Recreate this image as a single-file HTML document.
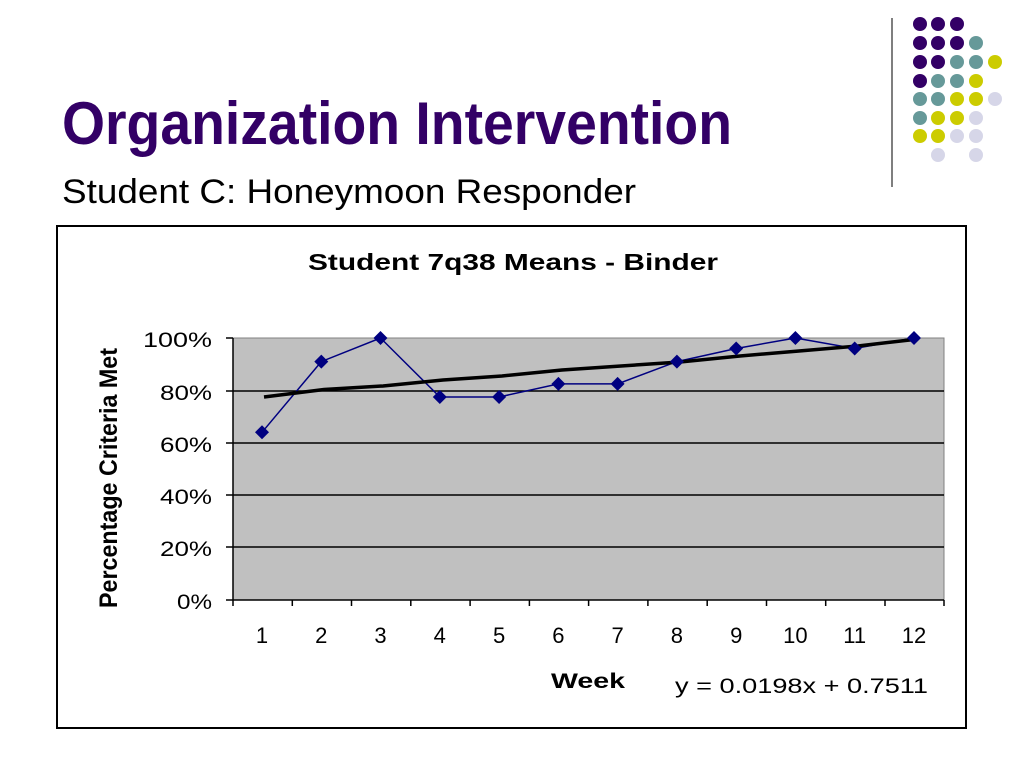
<!DOCTYPE html>
<html><head><meta charset="utf-8"><style>
body{margin:0;width:1024px;height:768px;background:#fff;overflow:hidden;position:relative;font-family:"Liberation Sans",sans-serif}
</style></head><body>
<svg width="1024" height="768" style="position:absolute;left:0;top:0" font-family="Liberation Sans, sans-serif">
<text x="62" y="144" font-size="60" font-weight="bold" fill="#330066" textLength="670" lengthAdjust="spacingAndGlyphs">Organization Intervention</text>
<text x="62" y="203" font-size="34" fill="#000" textLength="574" lengthAdjust="spacingAndGlyphs">Student C: Honeymoon Responder</text>
<line x1="892" y1="18" x2="892" y2="187" stroke="#555" stroke-width="1.5"/>
<g>
<circle cx="920" cy="24" r="7" fill="#330066"/><circle cx="938" cy="24" r="7" fill="#330066"/><circle cx="957" cy="24" r="7" fill="#330066"/>
<circle cx="920" cy="43" r="7" fill="#330066"/><circle cx="938" cy="43" r="7" fill="#330066"/><circle cx="957" cy="43" r="7" fill="#330066"/><circle cx="976" cy="43" r="7" fill="#669999"/>
<circle cx="920" cy="62" r="7" fill="#330066"/><circle cx="938" cy="62" r="7" fill="#330066"/><circle cx="957" cy="62" r="7" fill="#669999"/><circle cx="976" cy="62" r="7" fill="#669999"/><circle cx="995" cy="62" r="7" fill="#cccc00"/>
<circle cx="920" cy="81" r="7" fill="#330066"/><circle cx="938" cy="81" r="7" fill="#669999"/><circle cx="957" cy="81" r="7" fill="#669999"/><circle cx="976" cy="81" r="7" fill="#cccc00"/>
<circle cx="920" cy="99" r="7" fill="#669999"/><circle cx="938" cy="99" r="7" fill="#669999"/><circle cx="957" cy="99" r="7" fill="#cccc00"/><circle cx="976" cy="99" r="7" fill="#cccc00"/><circle cx="995" cy="99" r="7" fill="#d6d6e8"/>
<circle cx="920" cy="118" r="7" fill="#669999"/><circle cx="938" cy="118" r="7" fill="#cccc00"/><circle cx="957" cy="118" r="7" fill="#cccc00"/><circle cx="976" cy="118" r="7" fill="#d6d6e8"/>
<circle cx="920" cy="136" r="7" fill="#cccc00"/><circle cx="938" cy="136" r="7" fill="#cccc00"/><circle cx="957" cy="136" r="7" fill="#d6d6e8"/><circle cx="976" cy="136" r="7" fill="#d6d6e8"/>
<circle cx="938" cy="155" r="7" fill="#d6d6e8"/><circle cx="976" cy="155" r="7" fill="#d6d6e8"/>
</g>
<rect x="57" y="226" width="909" height="502" fill="#fff" stroke="#000" stroke-width="2"/>
<text x="308" y="270" font-size="23" font-weight="bold" textLength="410" lengthAdjust="spacingAndGlyphs">Student 7q38 Means - Binder</text>
<rect x="233" y="338" width="711" height="262" fill="#c0c0c0" stroke="#808080" stroke-width="1"/>
<g stroke="#000" stroke-width="1.5">
<line x1="233" y1="391" x2="944" y2="391"/><line x1="233" y1="443" x2="944" y2="443"/><line x1="233" y1="495" x2="944" y2="495"/><line x1="233" y1="547" x2="944" y2="547"/>
<line x1="233" y1="338" x2="233" y2="606"/><line x1="226" y1="600" x2="944" y2="600"/>
<line x1="226" y1="338" x2="233" y2="338"/><line x1="226" y1="391" x2="233" y2="391"/><line x1="226" y1="443" x2="233" y2="443"/><line x1="226" y1="495" x2="233" y2="495"/><line x1="226" y1="547" x2="233" y2="547"/>
<line x1="292.3" y1="600" x2="292.3" y2="606"/><line x1="351.5" y1="600" x2="351.5" y2="606"/><line x1="410.8" y1="600" x2="410.8" y2="606"/><line x1="470.1" y1="600" x2="470.1" y2="606"/><line x1="529.4" y1="600" x2="529.4" y2="606"/><line x1="588.6" y1="600" x2="588.6" y2="606"/><line x1="647.9" y1="600" x2="647.9" y2="606"/><line x1="707.2" y1="600" x2="707.2" y2="606"/><line x1="766.5" y1="600" x2="766.5" y2="606"/><line x1="825.7" y1="600" x2="825.7" y2="606"/><line x1="885" y1="600" x2="885" y2="606"/><line x1="944" y1="600" x2="944" y2="606"/>
</g>
<g font-size="21">
<text x="143" y="347" textLength="69" lengthAdjust="spacingAndGlyphs">100%</text>
<text x="160" y="400" textLength="52" lengthAdjust="spacingAndGlyphs">80%</text>
<text x="160" y="452" textLength="52" lengthAdjust="spacingAndGlyphs">60%</text>
<text x="160" y="504" textLength="52" lengthAdjust="spacingAndGlyphs">40%</text>
<text x="160" y="556" textLength="52" lengthAdjust="spacingAndGlyphs">20%</text>
<text x="177" y="609" textLength="35" lengthAdjust="spacingAndGlyphs">0%</text>
</g>
<g font-size="22" text-anchor="middle">
<text x="262" y="643">1</text><text x="321.3" y="643">2</text><text x="380.5" y="643">3</text><text x="439.8" y="643">4</text><text x="499.1" y="643">5</text><text x="558.4" y="643">6</text><text x="617.6" y="643">7</text><text x="676.9" y="643">8</text><text x="736.2" y="643">9</text><text x="795.4" y="643">10</text><text x="854.7" y="643">11</text><text x="914" y="643">12</text>
</g>
<text x="551" y="688" font-size="21" font-weight="bold" textLength="74" lengthAdjust="spacingAndGlyphs">Week</text>
<text x="675" y="693" font-size="21" textLength="253" lengthAdjust="spacingAndGlyphs">y = 0.0198x + 0.7511</text>
<text transform="translate(117,478) rotate(-90)" text-anchor="middle" font-size="25" font-weight="bold" textLength="260" lengthAdjust="spacingAndGlyphs">Percentage Criteria Met</text>
<polyline points="262,432.3 321.3,361.6 380.5,338 439.8,397 499.1,397 558.4,383.9 617.6,383.9 676.9,361.6 736.2,348.5 795.4,338 854.7,348.5 914,338" fill="none" stroke="#000080" stroke-width="1.5"/>
<polyline points="264,397 324,389.5 383,386 443,380 502,376 562,370 621,366 680,362 740,356 799,351 858,346 914,339.5" fill="none" stroke="#000" stroke-width="3.5"/>
<g fill="#000080">
<path d="M262 425.3l7 7-7 7-7-7z"/><path d="M321.3 354.6l7 7-7 7-7-7z"/><path d="M380.5 331l7 7-7 7-7-7z"/><path d="M439.8 390l7 7-7 7-7-7z"/><path d="M499.1 390l7 7-7 7-7-7z"/><path d="M558.4 376.9l7 7-7 7-7-7z"/><path d="M617.6 376.9l7 7-7 7-7-7z"/><path d="M676.9 354.6l7 7-7 7-7-7z"/><path d="M736.2 341.5l7 7-7 7-7-7z"/><path d="M795.4 331l7 7-7 7-7-7z"/><path d="M854.7 341.5l7 7-7 7-7-7z"/><path d="M914 331l7 7-7 7-7-7z"/>
</g>
</svg>
</body></html>
